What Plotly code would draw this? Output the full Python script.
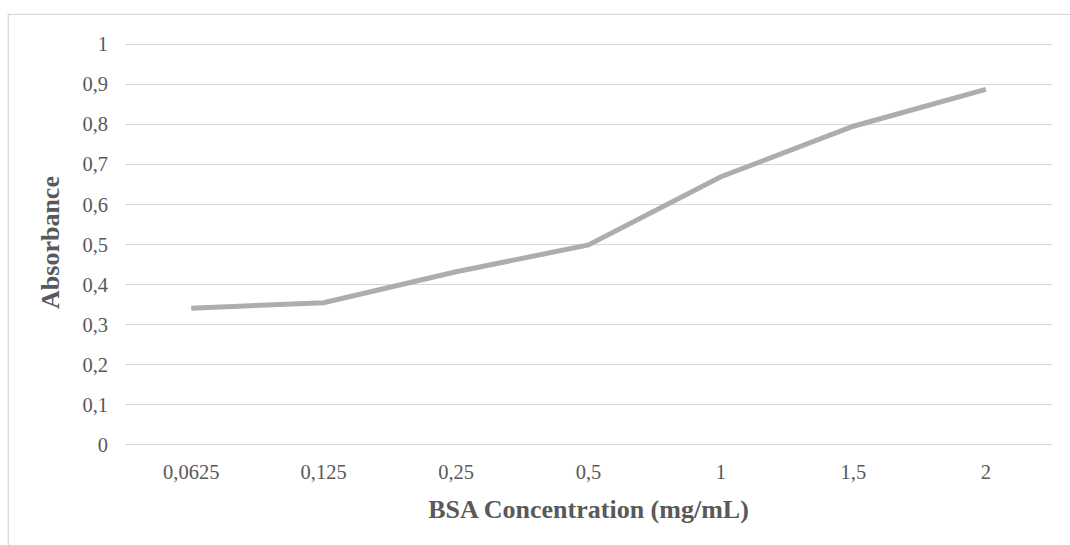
import plotly.graph_objects as go

# BSA standard curve: absorbance at each concentration
concentrations = ["0,0625", "0,125", "0,25", "0,5", "1", "1,5", "2"]
absorbance = [0.341, 0.355, 0.432, 0.499, 0.669, 0.795, 0.887]
y_ticks = [0, 0.1, 0.2, 0.3, 0.4, 0.5, 0.6, 0.7, 0.8, 0.9, 1.0]
y_tick_text = ["0", "0,1", "0,2", "0,3", "0,4", "0,5", "0,6", "0,7", "0,8", "0,9", "1"]

W, H = 1070, 545
L, R, T, B = 124.8, W - 1052.2, 35.7, H - 449.3

fig = go.Figure(
    go.Scatter(
        x=concentrations,
        y=absorbance,
        mode="lines",
        line=dict(color="#ADADAD", width=5),
        hoverinfo="x+y",
    )
)

font_family = "Liberation Serif, Times New Roman, serif"
text_color = "#595959"

fig.update_layout(
    width=W,
    height=H,
    margin=dict(l=L, r=R, t=T, b=B, pad=0),
    paper_bgcolor="white",
    plot_bgcolor="white",
    showlegend=False,
    font=dict(family=font_family, color=text_color, size=20),
)

fig.update_xaxes(
    type="category",
    range=[-0.5, 6.5],
    showgrid=False,
    showline=False,
    ticks="",
    ticklabelstandoff=8,
    tickfont=dict(size=20.5, color=text_color),
    title=dict(
        text="<b>BSA Concentration (mg/mL)</b>",
        font=dict(size=26, color=text_color),
        standoff=18,
    ),
)

fig.update_yaxes(
    range=[-0.01, 1.02],
    tickvals=y_ticks,
    ticktext=y_tick_text,
    showgrid=True,
    gridcolor="#D9D9D9",
    gridwidth=1.3,
    zeroline=False,
    showline=False,
    ticks="",
    ticklabelstandoff=16,
    tickfont=dict(size=20.5, color=text_color),
    title=dict(
        text="<b>Absorbance</b>",
        font=dict(size=26, color=text_color),
        standoff=15,
    ),
)

# Chart frame, partly running off the right and bottom edges
def px_x(p):
    return (p - L) / (W - L - R)

def px_y(p):
    return 1 - (p - T) / (H - T - B)

fig.add_shape(
    type="rect",
    xref="paper",
    yref="paper",
    x0=px_x(8), x1=px_x(W + 10),
    y0=px_y(H + 10), y1=px_y(14),
    line=dict(color="#D9D9D9", width=1.3),
    fillcolor="rgba(0,0,0,0)",
    layer="below",
)

fig.write_html("out.html")
